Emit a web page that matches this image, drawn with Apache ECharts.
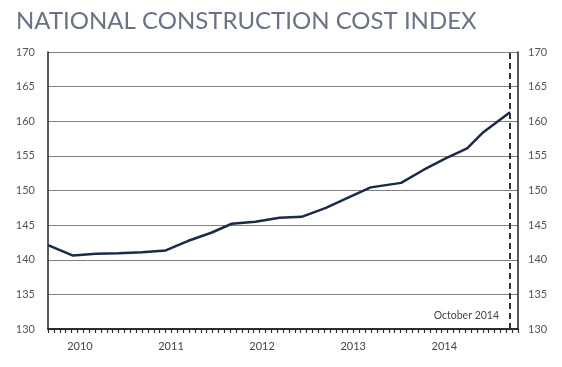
<!DOCTYPE html>
<html>
<head>
<meta charset="utf-8">
<script src="https://cdn.jsdelivr.net/npm/echarts@6/dist/echarts.min.js"></script>
<style>
html,body{margin:0;padding:0;background:#fff;}
#chart{width:562px;height:367px;}
</style>
</head>
<body>
<div id="chart"></div>
<script>
// Months measured from January 2010 (0 = Jan 2010)
const months = [-4.2, -0.9, 2.1, 5.1, 8.2, 11.3, 14.2, 17.3, 20.0, 23.1, 26.3, 29.2, 32.4, 35.4, 38.3, 42.3, 45.3, 48.1, 51.0, 53.0, 56.65];
const values = [142.1, 140.6, 140.85, 140.95, 141.1, 141.35, 142.7, 143.9, 145.2, 145.5, 146.05, 146.2, 147.5, 149.0, 150.45, 151.1, 153.0, 154.6, 156.1, 158.3, 161.3];
const yearPositions = [0, 12, 24, 36, 48];
const yearLabels = ['2010', '2011', '2012', '2013', '2014'];
const markerMonth = 56.65;
const markerLabel = 'October 2014';
const titleText = 'NATIONAL CONSTRUCTION COST INDEX';

const xMin = -4.2, xMax = 57.7;
const tickSlots = [];
for (let i = 0; i <= 80; i++) tickSlots.push(String(i));

const lineData = months.map((m, i) => [m, values[i]]);

const font = 'Lato, "Open Sans", sans-serif';
const chart = echarts.init(document.getElementById('chart'));
chart.setOption({
  animation: false,
  backgroundColor: '#fff',
  title: {
    text: titleText, left: 11, top: 4,
    textStyle: { fontFamily: font, fontWeight: 'normal', fontSize: 24, color: '#6b7286' }
  },
  grid: { left: 48, right: 44, top: 52, bottom: 38 },
  xAxis: [
    {
      type: 'value', min: xMin, max: xMax,
      axisLine: { show: true, onZero: false, lineStyle: { color: '#222', width: 1.5 } },
      axisTick: { show: false },
      axisLabel: {
        customValues: yearPositions,
        formatter: v => { const i = yearPositions.indexOf(v); return i >= 0 ? yearLabels[i] : ''; },
        margin: 12, fontFamily: font, fontSize: 11, color: '#444'
      },
      splitLine: { show: false }
    },
    {
      type: 'category', data: tickSlots, boundaryGap: false, position: 'bottom', offset: 0,
      axisLine: { show: true, onZero: false, lineStyle: { color: '#222', width: 1.5 } },
      axisTick: { show: true, interval: 0, length: 4, inside: false, lineStyle: { color: '#333', width: 1.2 } },
      axisLabel: { show: false },
      splitLine: { show: false }
    }
  ],
  yAxis: [
    {
      type: 'value', min: 130, max: 170, interval: 5, position: 'left',
      axisLine: { show: true, onZero: false, lineStyle: { color: '#222', width: 1.5 } },
      axisTick: { show: false },
      axisLabel: { margin: 13, fontFamily: font, fontSize: 11, color: '#555' },
      splitLine: { show: true, lineStyle: { color: '#808080', width: 1 } }
    },
    {
      type: 'value', min: 130, max: 170, interval: 5, position: 'right',
      axisLine: { show: true, onZero: false, lineStyle: { color: '#222', width: 1.5 } },
      axisTick: { show: false },
      axisLabel: { margin: 10, fontFamily: font, fontSize: 11, color: '#555' },
      splitLine: { show: false }
    }
  ],
  series: [
    {
      type: 'line', data: lineData, xAxisIndex: 0, yAxisIndex: 0,
      showSymbol: false, symbol: 'none',
      lineStyle: { color: '#1b2a48', width: 2.5 },
      markLine: {
        silent: true, symbol: ['none', 'none'],
        lineStyle: { color: '#333', type: [6, 4], width: 2 },
        label: { show: false },
        data: [{ xAxis: markerMonth }]
      }
    }
  ],
  graphic: [{
    type: 'text', right: 63, top: 310,
    style: { text: markerLabel, font: '10.5px ' + font, fill: '#444' }
  }]
});
</script>
</body>
</html>
